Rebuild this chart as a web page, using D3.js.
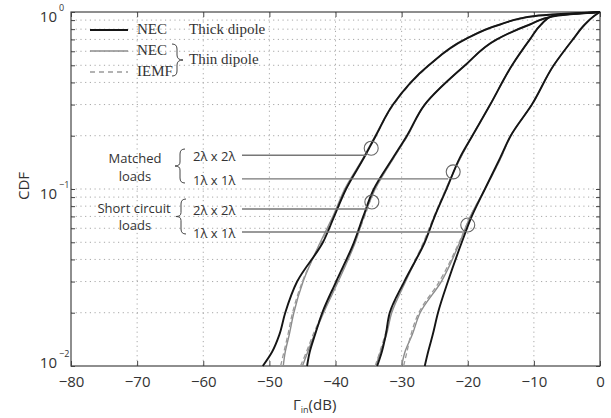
<!DOCTYPE html>
<html>
<head>
<meta charset="utf-8">
<script src="https://cdn.jsdelivr.net/npm/d3@7"></script>
<style>
  body { margin: 0; background: #fff; }
  svg { display: block; }
</style>
</head>
<body>
<svg id="chart"></svg>
<script>
// CDF of input reflection, log y axis

const xTicks = [-80, -70, -60, -50, -40, -30, -20, -10, 0];
const yMajor = [0.01, 0.1, 1];
const yExp = ["\u22122", "\u22121", "0"];
const yMinor = [0.02, 0.03, 0.04, 0.05, 0.06, 0.07, 0.08, 0.09, 0.2, 0.3, 0.4, 0.5, 0.6, 0.7, 0.8, 0.9];

// cdf levels shared by all curves
const cdfLevels = [0.01, 0.012, 0.015, 0.02, 0.03, 0.05, 0.07, 0.1, 0.15, 0.2, 0.3, 0.5, 0.7, 0.85, 0.95, 1.0];

// thick dipole, NEC (black)
const thickA = [-51.0, -49.6, -48.5, -47.6, -45.8, -41.9, -40.2, -38.4, -35.7, -33.9, -31.3, -25.9, -20.4, -15.1, -9.8, 0];
const thickB = [-44.3, -43.9, -43.1, -42.0, -39.9, -37.2, -35.8, -34.2, -31.3, -29.2, -26.5, -20.4, -15.6, -10.6, -6.8, 0];
const thickC = [-33.7, -33.0, -32.4, -31.8, -29.6, -26.5, -25.0, -23.2, -21.2, -19.3, -16.6, -13.3, -10.6, -8.9, -7.2, 0];
const thickD = [-26.5, -26.0, -25.3, -24.5, -23.0, -20.9, -19.4, -17.4, -15.1, -13.5, -10.3, -7.0, -4.1, -2.3, -0.9, 0];

// thin dipole, NEC (gray)
const thinA = [-47.9, -47.6, -47.0, -46.3, -44.9, -42.3, -40.4, -38.6, -35.8, -34.0, -31.3, -25.9, -20.5, -15.1, -9.8, 0];
const thinB = [-45.0, -44.2, -43.2, -41.8, -39.6, -37.0, -35.7, -34.0, -31.2, -29.1, -26.5, -20.4, -15.6, -10.6, -6.8, 0];
const thinC = [-33.9, -33.2, -32.3, -31.5, -29.4, -26.6, -25.0, -23.3, -21.1, -19.3, -16.6, -13.3, -10.6, -8.9, -7.2, 0];
const thinD = [-30.0, -29.5, -28.4, -27.2, -24.0, -21.2, -19.6, -17.4, -15.0, -13.5, -10.3, -7.0, -4.1, -2.3, -0.9, 0];

// thin dipole, IEMF (dashed)
const iemfA = [-48.3, -47.8, -47.2, -46.5, -45.0, -42.2, -40.3, -38.5, -35.7, -33.9, -31.2, -25.8, -20.5, -15.1, -9.8, 0];
const iemfB = [-45.3, -44.4, -43.4, -41.9, -39.7, -37.1, -35.6, -34.0, -31.2, -29.1, -26.5, -20.4, -15.6, -10.6, -6.8, 0];
const iemfC = [-34.0, -33.3, -32.5, -31.6, -29.5, -26.7, -25.1, -23.3, -21.1, -19.3, -16.6, -13.3, -10.6, -8.9, -7.2, 0];
const iemfD = [-29.7, -29.2, -28.6, -27.4, -24.3, -21.3, -19.6, -17.4, -15.0, -13.5, -10.3, -7.0, -4.1, -2.3, -0.9, 0];

// annotations: matched 2x2, matched 1x1, short 2x2, short 1x1
const annoLabels = ["2\u03bb x 2\u03bb", "1\u03bb x 1\u03bb", "2\u03bb x 2\u03bb", "1\u03bb x 1\u03bb"];
const annoDb = [-34.6, -22.2, -34.5, -20.0];
const annoCdf = [0.170, 0.125, 0.0845, 0.0626];

const W = 611, H = 418;
const margin = { top: 12, right: 11, bottom: 52, left: 71 },
      width = W - margin.left - margin.right,
      height = H - margin.top - margin.bottom;

const svgRoot = d3.select("#chart").attr("width", W).attr("height", H);
const svg = svgRoot.append("g").attr("transform", `translate(${margin.left},${margin.top})`);

const x = d3.scaleLinear().domain([-80, 0]).range([0, width]);
const y = d3.scaleLog().domain([0.01, 1]).range([height, 0]);

const sans = "'Open Sans', 'Noto Sans', sans-serif";
const serif = "'Liberation Serif', 'DejaVu Serif', serif";

// grid
const grid = svg.append("g").attr("stroke", "#a8a8a8").attr("stroke-width", 1).attr("stroke-dasharray", "1.2,3.5");
grid.selectAll("line.v").data(xTicks.slice(1, -1)).join("line")
  .attr("x1", d => x(d)).attr("x2", d => x(d)).attr("y1", 0).attr("y2", height);
grid.selectAll("line.h").data(yMinor.concat([0.1])).join("line")
  .attr("x1", 0).attr("x2", width).attr("y1", d => y(d)).attr("y2", d => y(d));

// ticks (inside, all four sides)
const xAxis = svg.append("g").attr("transform", `translate(0,${height})`)
  .call(d3.axisBottom(x).tickValues(xTicks).tickSizeInner(-5).tickSizeOuter(0).tickPadding(10));
xAxis.select(".domain").remove();
xAxis.selectAll("text").attr("font-family", sans).attr("font-size", 15).attr("fill", "#333");
xAxis.selectAll("line").attr("stroke", "#444");

const xTop = svg.append("g")
  .call(d3.axisTop(x).tickValues(xTicks).tickSizeInner(-5).tickSizeOuter(0).tickFormat(""));
xTop.select(".domain").remove();
xTop.selectAll("line").attr("stroke", "#444");

const yl = svg.append("g").call(d3.axisLeft(y).tickValues(yMajor.concat(yMinor)).tickSizeInner(-4).tickSizeOuter(0).tickFormat(""));
yl.select(".domain").remove();
yl.selectAll("line").attr("stroke", "#444");
const yr = svg.append("g").attr("transform", `translate(${width},0)`)
  .call(d3.axisRight(y).tickValues(yMajor.concat(yMinor)).tickSizeInner(-4).tickSizeOuter(0).tickFormat(""));
yr.select(".domain").remove();
yr.selectAll("line").attr("stroke", "#444");

// y labels 10^n
const yLab = svg.append("g").attr("font-family", sans).attr("fill", "#333");
yMajor.forEach((v, i) => {
  const base = i === 0 ? y(v) + 2 : y(v) + 10;
  yLab.append("text").attr("x", -14).attr("y", base).attr("text-anchor", "end")
    .attr("font-size", 15).text("10");
  yLab.append("text").attr("x", -12).attr("y", base - 11).attr("font-size", 9).text(yExp[i]);
});

// box
svg.append("rect").attr("width", width).attr("height", height)
  .attr("fill", "none").attr("stroke", "#444").attr("stroke-width", 1.2);

// axis titles
svgRoot.append("text").attr("transform", "translate(29,186) rotate(-90)")
  .attr("text-anchor", "middle").attr("font-family", sans).attr("font-size", 15).attr("fill", "#333").text("CDF");
const xt = svgRoot.append("text").attr("x", 293).attr("y", 410)
  .attr("font-family", sans).attr("font-size", 15).attr("fill", "#333");
xt.append("tspan").text("\u0393");
xt.append("tspan").attr("font-size", 9).attr("dy", 3).text("in");
xt.append("tspan").attr("dy", -3).text("(dB)");

// curves
const line = d3.line()
  .x(d => x(d[0]))
  .y(d => y(d[1]))
  .curve(d3.curveMonotoneY);
const toPts = arr => arr.map((v, i) => [v, cdfLevels[i]]);

const curves = svg.append("g");
[thinA, thinB, thinC, thinD].forEach(c => {
  curves.append("path").attr("d", line(toPts(c)))
    .attr("fill", "none").attr("stroke", "#8c8c8c").attr("stroke-width", 1.4);
});
[iemfA, iemfB, iemfC, iemfD].forEach(c => {
  curves.append("path").attr("d", line(toPts(c)))
    .attr("fill", "none").attr("stroke", "#9a9a9a").attr("stroke-width", 1.3).attr("stroke-dasharray", "5,3");
});
[thickA, thickB, thickC, thickD].forEach(c => {
  curves.append("path").attr("d", line(toPts(c)))
    .attr("fill", "none").attr("stroke", "#151515").attr("stroke-width", 1.9);
});

// legend
const leg = svg.append("g").attr("font-family", serif).attr("font-size", 15).attr("fill", "#333");
const legY = [18, 39, 60];
leg.append("line").attr("x1", 19).attr("x2", 57).attr("y1", legY[0]).attr("y2", legY[0]).attr("stroke", "#151515").attr("stroke-width", 1.9);
leg.append("line").attr("x1", 19).attr("x2", 57).attr("y1", legY[1]).attr("y2", legY[1]).attr("stroke", "#8c8c8c").attr("stroke-width", 1.4);
leg.append("line").attr("x1", 19).attr("x2", 57).attr("y1", legY[2]).attr("y2", legY[2]).attr("stroke", "#9a9a9a").attr("stroke-width", 1.4).attr("stroke-dasharray", "5,4");
leg.append("text").attr("x", 66).attr("y", legY[0] + 4).text("NEC");
leg.append("text").attr("x", 66).attr("y", legY[1] + 4).text("NEC");
leg.append("text").attr("x", 66).attr("y", legY[2] + 4).text("IEMF");
leg.append("text").attr("x", 118).attr("y", legY[0] + 4).text("Thick dipole");
leg.append("text").attr("x", 118).attr("y", 52).text("Thin dipole");
// right brace
leg.append("path")
  .attr("d", "M101,32 Q106,32 106,37 L106,43 Q106,48 112,48 Q106,48 106,53 L106,59 Q106,64 101,64")
  .attr("fill", "none").attr("stroke", "#444").attr("stroke-width", 1);

// annotations
const ann = svg.append("g").attr("font-family", sans).attr("font-size", 13).attr("fill", "#333");
ann.append("text").attr("x", 64).attr("y", 151).attr("text-anchor", "middle").text("Matched");
ann.append("text").attr("x", 64).attr("y", 169).attr("text-anchor", "middle").text("loads");
ann.append("text").attr("x", 63).attr("y", 201).attr("text-anchor", "middle").text("Short circuit");
ann.append("text").attr("x", 64).attr("y", 218).attr("text-anchor", "middle").text("loads");

const braceL = (x0, y0, y1) => {
  const m = (y0 + y1) / 2;
  return `M${x0 + 5},${y0} Q${x0},${y0} ${x0},${y0 + 5} L${x0},${m - 4} Q${x0},${m} ${x0 - 5},${m} ` +
         `Q${x0},${m} ${x0},${m + 4} L${x0},${y1 - 5} Q${x0},${y1} ${x0 + 5},${y1}`;
};
ann.append("path").attr("d", braceL(109, 137, 171)).attr("fill", "none").attr("stroke", "#444").attr("stroke-width", 1);
ann.append("path").attr("d", braceL(110, 187, 222)).attr("fill", "none").attr("stroke", "#444").attr("stroke-width", 1);

annoLabels.forEach((lab, i) => {
  const cx = x(annoDb[i]), cy = y(annoCdf[i]);
  ann.append("text").attr("x", 122).attr("y", cy + 13).text(lab);
  ann.append("line").attr("x1", 171).attr("x2", cx - 5).attr("y1", cy + 7).attr("y2", cy + 7)
    .attr("stroke", "#777").attr("stroke-width", 1.4);
  ann.append("circle").attr("cx", cx).attr("cy", cy).attr("r", 7)
    .attr("fill", "none").attr("stroke", "#666").attr("stroke-width", 1.1);
});
</script>
</body>
</html>
